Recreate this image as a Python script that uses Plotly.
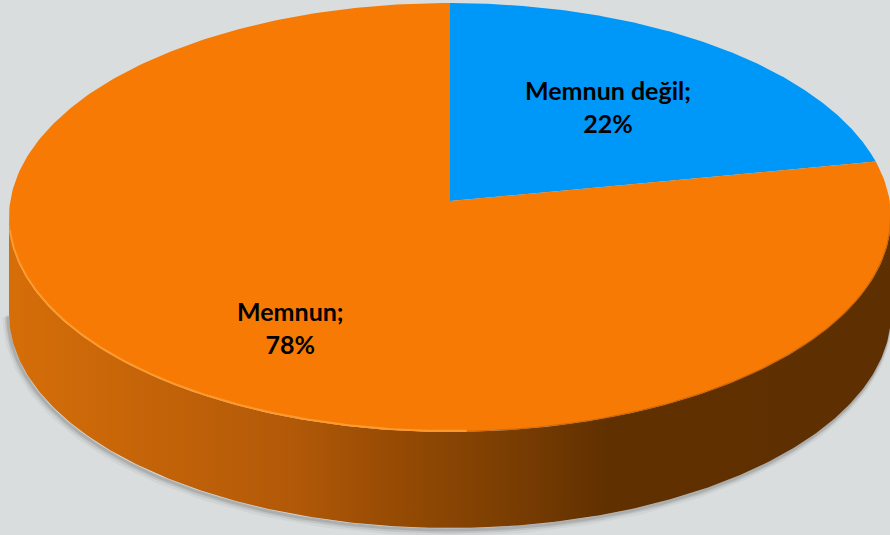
import numpy as np
import plotly.graph_objects as go

# ---- data ----
labels = ["Memnun değil", "Memnun"]
values = [22, 78]
colors = ["#0098f8", "#f77a04"]

# ---- 3D pie geometry (style) ----
X0, Y0 = 450.0, 201.0      # projected pie centre (px)
A, B = 439.7, 213.2        # horizontal / vertical scale of the disc
K = 0.0769                 # perspective strength
DEPTH = 96.0               # thickness of the pie
# label placement (relative to bounding ellipse)
LCX, LCY, LRX, LRY = 449.0, 217.0, 441.0, 214.5
LBL_FX, LBL_FY = 0.565, 0.67

def pt(theta_deg, dy=0.0):
    t = np.radians(theta_deg)
    u, v = np.sin(t), np.cos(t)
    w = 1.0 + K * v
    return X0 + A * u / w, Y0 - B * v / w + dy

fig = go.Figure()

th_s = np.degrees(np.arccos(-K))          # silhouette angle
th = np.linspace(th_s, 360 - th_s, 240)

# soft shadow under the side band
bx, by = pt(th, DEPTH)
for off, alpha, w in [(4, 0.06, 8), (3, 0.10, 5), (2, 0.16, 3)]:
    fig.add_trace(go.Scatter(x=bx - off * 0.6, y=by + off, mode="lines",
                             line=dict(color=f"rgba(60,60,60,{alpha})", width=w),
                             hoverinfo="skip"))

# front side band with horizontal gradient
tx, ty = pt(th)
bx2, by2 = pt(th[::-1], DEPTH)
fig.add_trace(go.Scatter(
    x=np.concatenate([tx, bx2, tx[:1]]),
    y=np.concatenate([ty, by2, ty[:1]]),
    mode="lines", line=dict(width=0), fill="toself",
    fillgradient=dict(type="horizontal",
                      colorscale=[[0, "#d66e08"], [0.32, "#b25908"],
                                  [0.42, "#9a4d04"], [0.6, "#733a02"],
                                  [0.68, "#603000"], [1, "#5e2f00"]]),
    hoverinfo="skip"))

# top face slices
total = sum(values)
start = 0.0
mids = []
for lab, val, col in zip(labels, values, colors):
    span = 360.0 * val / total
    ang = np.linspace(start, start + span, 300)
    ax_, ay_ = pt(ang)
    fig.add_trace(go.Scatter(
        x=np.concatenate([[X0], ax_, [X0]]),
        y=np.concatenate([[Y0], ay_, [Y0]]),
        mode="lines", line=dict(width=0, color=col), fill="toself",
        fillcolor=col, hoverinfo="skip"))
    mids.append(start + span / 2)
    start += span

# darker soft rim on the right-front edge
dx, dy = pt(np.linspace(th_s, 178, 200))
fig.add_trace(go.Scatter(x=dx, y=dy, mode="lines",
                         line=dict(color="rgba(140,65,0,0.35)", width=2),
                         hoverinfo="skip"))
# highlight on the left-front rim of the top face
hx, hy = pt(np.linspace(178, 262, 200))
fig.add_trace(go.Scatter(x=hx, y=hy - 1, mode="lines",
                         line=dict(color="rgba(255,165,60,0.75)", width=2),
                         hoverinfo="skip"))

# labels
for lab, val, m in zip(labels, values, mids):
    t = np.radians(m)
    fig.add_annotation(
        x=LCX + LBL_FX * LRX * np.sin(t), y=LCY - LBL_FY * LRY * np.cos(t),
        xref="x", yref="y", showarrow=False,
        text=f"<b>{lab};<br>{val}%</b>",
        font=dict(family="Lato", size=25, color="#000000"),
        align="center")

fig.update_layout(
    width=890, height=535, margin=dict(l=0, r=0, t=0, b=0),
    paper_bgcolor="#dadddd", plot_bgcolor="#dadddd",
    showlegend=False,
    xaxis=dict(range=[0, 890], visible=False, fixedrange=True),
    yaxis=dict(range=[535, 0], visible=False, fixedrange=True),
)

fig.write_html("out.html", config={"displayModeBar": False},
               post_script="document.body.style.margin='0';"
                           "document.body.style.background='#dadddd';")
